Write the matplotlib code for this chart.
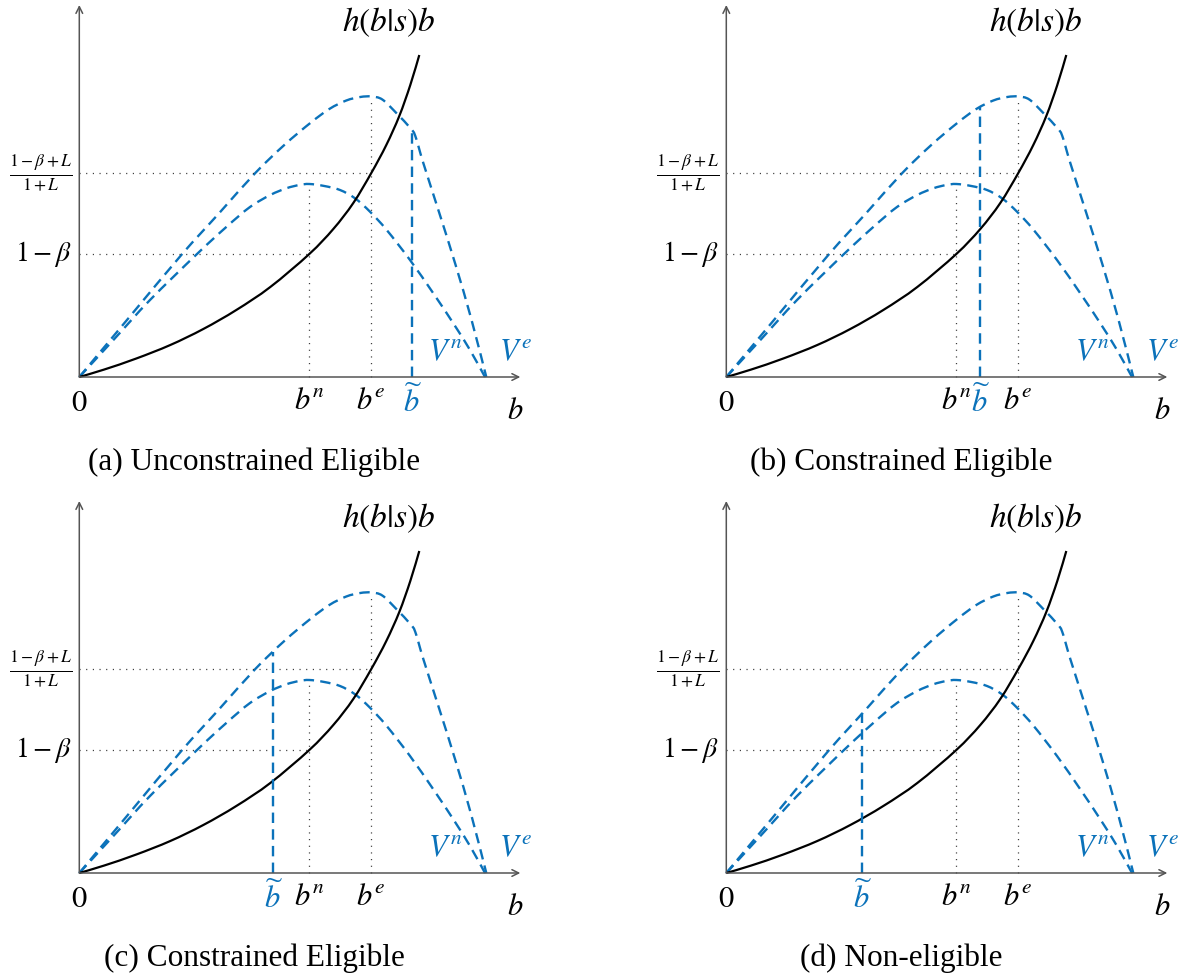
import numpy as np
import matplotlib
matplotlib.use('Agg')
import matplotlib.pyplot as plt
from matplotlib.path import Path
from matplotlib.patches import PathPatch

plt.rcParams['mathtext.fontset'] = 'stix'
plt.rcParams['font.family'] = ['Liberation Serif', 'STIXGeneral', 'DejaVu Serif']
plt.rcParams['lines.scale_dashes'] = False

# ---------------- data (schematic units: b-axis to 441, value axis to 372) ----
h_b   = [0, 25, 57, 91, 124, 157, 191, 230, 254, 274, 292, 307, 320, 331, 340]
h_val = [0, 7.5, 18.5, 32, 48, 67, 90, 123, 148, 174, 204, 232, 261, 292, 322]

vn_b   = [0, 35, 70.7, 117.7, 147, 170.7, 191, 207, 220, 230, 245, 260.7, 275.7,
          290.7, 307.4, 330.7, 354, 374, 390.7, 405.7]
vn_val = [0, 38, 77, 123, 150, 170, 182, 188.7, 192, 193, 191, 187, 178.7,
          165.3, 147, 117, 83.7, 53.7, 27, 0]

ve_b   = [0, 51, 102, 140, 176, 205, 231, 250, 267, 281, 292, 303, 317, 331,
          336, 344, 360, 376, 392, 407]
ve_val = [0, 61, 122, 164, 204, 232, 254, 268, 276.5, 280, 280.5, 277.5, 264, 249,
          241, 214, 164, 113, 58, 0]

b_n = 230
b_e = 292
level_1mb = 123          # 1 - beta
level_frac = 204         # (1-beta+L)/(1+L)
b_tilde = [333, 254, 194, 136]
captions = ['(a) Unconstrained Eligible', '(b) Constrained Eligible',
            '(c) Constrained Eligible', '(d) Non-eligible']
x_axis_end = 441
y_axis_end = 372

BLUE = '#0B72BA'
AXC = '#555555'
W, H = 1189, 977
origins = [(79.3, 377), (726.3, 377), (79.3, 873), (726.3, 873)]

fig = plt.figure(figsize=(W / 100, H / 100), dpi=100)


def smooth_path(xs, ys):
    """Cubic Bezier path passing through the given points (Catmull-Rom tangents)."""
    P = np.column_stack([xs, ys]).astype(float)
    n = len(P)
    verts = [P[0]]
    codes = [Path.MOVETO]
    for i in range(n - 1):
        p0 = P[i - 1] if i > 0 else P[i]
        p1, p2 = P[i], P[i + 1]
        p3 = P[i + 2] if i + 2 < n else P[i + 1]
        c1 = p1 + (p2 - p0) / 6.0
        c2 = p2 - (p3 - p1) / 6.0
        verts += [c1, c2, p2]
        codes += [Path.CURVE4] * 3
    return Path(verts, codes)


def draw(ax, bt, cap):
    ax.set_xlim(-79, 500)
    ax.set_ylim(-100, 377)
    ax.axis('off')
    dot = dict(color='#333333', lw=0.9, linestyle=(0, (0.8, 4.0)), clip_on=False)
    ax.plot([0, b_n], [level_1mb] * 2, **dot)
    ax.plot([0, b_e], [level_frac] * 2, **dot)
    ax.plot([b_n, b_n], [0, max(vn_val)], **dot)
    ax.plot([b_e, b_e], [0, max(ve_val)], **dot)

    dash = (0, (7.5, 4.5))
    for xs, ys in ((vn_b, vn_val), (ve_b, ve_val)):
        ax.add_patch(PathPatch(smooth_path(xs, ys), fill=False, edgecolor=BLUE,
                               lw=1.7, linestyle=dash, clip_on=False))
    top = np.interp(bt, ve_b, ve_val)
    ax.plot([bt, bt], [0, top], color=BLUE, lw=1.7, linestyle=dash, clip_on=False)
    ax.add_patch(PathPatch(smooth_path(h_b, h_val), fill=False, edgecolor='black',
                           lw=1.6, clip_on=False))

    ap = dict(arrowstyle='->', color=AXC, lw=1.1, shrinkA=0, shrinkB=0,
              mutation_scale=12)
    ax.annotate('', xy=(x_axis_end, 0), xytext=(0, 0), arrowprops=ap)
    ax.annotate('', xy=(0, y_axis_end), xytext=(0, 0), arrowprops=ap)

    fs = 22
    ax.text(-7, level_frac, r'$\frac{1-\beta+L}{1+L}$', ha='right', va='center',
            fontsize=18)
    ax.text(-7, level_1mb, r'$1-\beta$', ha='right', va='center', fontsize=20)
    ax.text(309, 355, r'$h(b|s)b$', ha='center', va='center', fontsize=24)
    ax.text(366, 24, r'$V^n$', ha='center', va='center', fontsize=fs, color=BLUE)
    ax.text(436, 24, r'$V^e$', ha='center', va='center', fontsize=fs, color=BLUE)
    ax.text(0, -12, r'$0$', ha='center', va='top', fontsize=fs)
    ax.text(b_n, -10, r'$b^n$', ha='center', va='top', fontsize=fs)
    ax.text(b_e, -10, r'$b^e$', ha='center', va='top', fontsize=fs)
    ax.text(bt, -8, r'$\widetilde{b}$', ha='center', va='top', fontsize=fs,
            color=BLUE)
    ax.text(436, -20, r'$b$', ha='center', va='top', fontsize=fs)
    ax.text(175, -85, cap, ha='center', va='center', fontsize=22.5)


for (ox, oy), bt, cap in zip(origins, b_tilde, captions):
    left = (ox - 79) / W
    bottom = 1 - (oy + 100) / H
    ax = fig.add_axes([left, bottom, 579 / W, 477 / H])
    draw(ax, bt, cap)

fig.savefig('out.png', dpi=100)
